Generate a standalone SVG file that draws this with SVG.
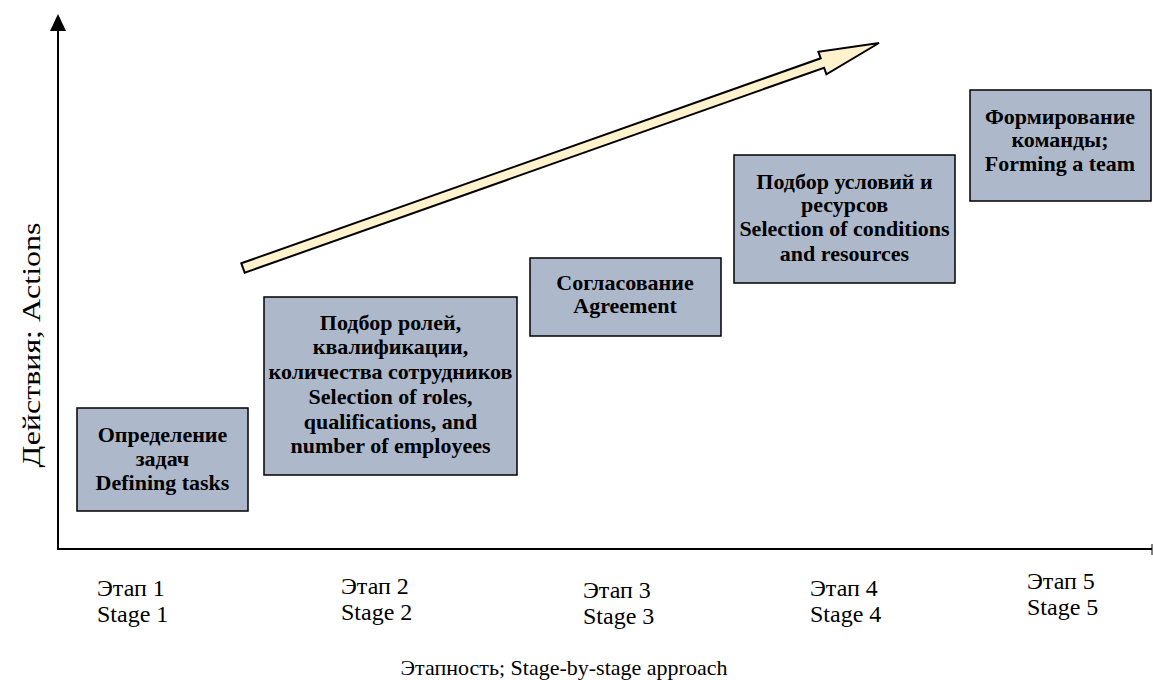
<svg xmlns="http://www.w3.org/2000/svg" width="1153" height="680" viewBox="0 0 1153 680">
<style>
.box{fill:#ADB9CA;stroke:#000;stroke-width:1.5}
.bt{font-family:"Liberation Serif","Times New Roman",serif;font-weight:bold;font-size:22px;fill:#000;text-anchor:middle}
.lab{font-family:"Liberation Serif","Times New Roman",serif;font-size:24px;fill:#000}
.axis{stroke:#000;stroke-width:2;fill:none}
</style>
<rect width="1153" height="680" fill="#fff"/>
<g id="connectors">
<line class="axis" x1="58" y1="550" x2="58" y2="30"/>
<path d="M58,14 L66,31 L50,31 Z" fill="#000"/>
<line class="axis" x1="57" y1="549" x2="1152" y2="549"/>
<line x1="1152" y1="544" x2="1152" y2="555" stroke="#000" stroke-width="1"/>
<polygon points="241.3,263.3 820.7,58.3 818.4,51.7 879,43 826.4,74.3 824.1,67.7 244.7,272.7" fill="#FFF2CC" stroke="#000" stroke-width="2" stroke-linejoin="miter"/>
</g>
<g id="node1">
<rect class="box" x="77" y="408" width="171" height="103"/>
<text class="bt" x="162.5" y="442">Определение</text>
<text class="bt" x="162.5" y="466">задач</text>
<text class="bt" x="162.5" y="490">Defining tasks</text>
</g>
<g id="node2">
<rect class="box" x="264" y="297" width="253" height="178"/>
<text class="bt" x="390.5" y="330">Подбор ролей,</text>
<text class="bt" x="390.5" y="354">квалификации,</text>
<text class="bt" x="390.5" y="379">количества сотрудников</text>
<text class="bt" x="390.5" y="404">Selection of roles,</text>
<text class="bt" x="390.5" y="429">qualifications, and</text>
<text class="bt" x="390.5" y="453">number of employees</text>
</g>
<g id="node3">
<rect class="box" x="530" y="258" width="191" height="78"/>
<text class="bt" x="625" y="290">Согласование</text>
<text class="bt" x="625" y="313">Agreement</text>
</g>
<g id="node4">
<rect class="box" x="734" y="155" width="221" height="128"/>
<text class="bt" x="844.5" y="189">Подбор условий и</text>
<text class="bt" x="844.5" y="212">ресурсов</text>
<text class="bt" x="844.5" y="236">Selection of conditions</text>
<text class="bt" x="844.5" y="261">and resources</text>
</g>
<g id="node5">
<rect class="box" x="970" y="90" width="181" height="111"/>
<text class="bt" x="1060" y="124">Формирование</text>
<text class="bt" x="1060" y="147">команды;</text>
<text class="bt" x="1060" y="171">Forming a team</text>
</g>
<g id="labels">
<text class="lab" x="97" y="596">Этап 1</text>
<text class="lab" x="97" y="622">Stage 1</text>
<text class="lab" x="341" y="594">Этап 2</text>
<text class="lab" x="341" y="620">Stage 2</text>
<text class="lab" x="583" y="598">Этап 3</text>
<text class="lab" x="583" y="624">Stage 3</text>
<text class="lab" x="810" y="596">Этап 4</text>
<text class="lab" x="810" y="622">Stage 4</text>
<text class="lab" x="1027" y="589">Этап 5</text>
<text class="lab" x="1027" y="615">Stage 5</text>
<text class="lab" x="564" y="675" text-anchor="middle" style="font-size:22px">Этапность; Stage-by-stage approach</text>
<text class="lab" transform="translate(40,345) rotate(-90)" text-anchor="middle" style="font-size:26px" textLength="245" lengthAdjust="spacingAndGlyphs">Действия; Actions</text>
</g>
</svg>
